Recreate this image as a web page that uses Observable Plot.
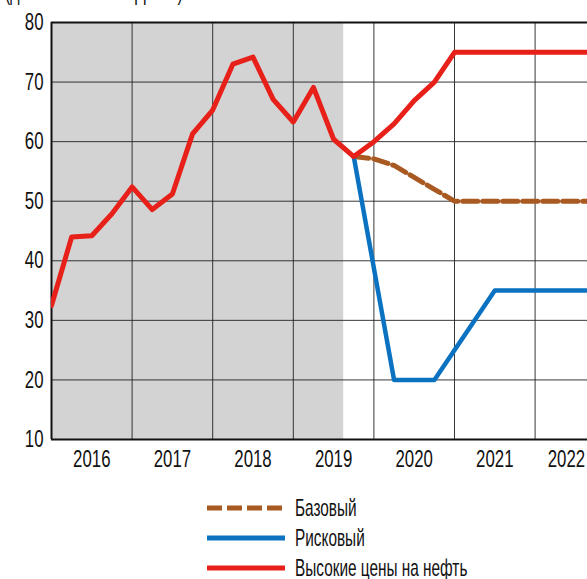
<!DOCTYPE html>
<html>
<head>
<meta charset="utf-8">
<script src="https://cdn.jsdelivr.net/npm/d3@7"></script>
<script src="https://cdn.jsdelivr.net/npm/@observablehq/plot@0.6"></script>
<style>
  html, body { margin: 0; padding: 0; background: #fff; }
  #wrap { position: relative; width: 587px; height: 579px; overflow: hidden;
          font-family: "Liberation Sans", Arial, sans-serif; color: #111; }
  #title { position: absolute; left: 5px; top: -21px; font-size: 24px; line-height: 26px; white-space: nowrap;
           transform: scaleX(0.66); transform-origin: left center; }
  #legend { position: absolute; left: 207px; top: 493px; }
  .row { display: flex; align-items: center; height: 30px; }
  .row svg { display: block; margin-right: 10px; }
  .row span { font-size: 24px; line-height: 20px; display: inline-block; transform: scaleX(0.64); transform-origin: left center; white-space: nowrap; }
</style>
</head>
<body>
<div id="wrap">
  <div id="title">(долл. США за баррель)</div>
  <div id="chart"></div>
  <div id="legend"></div>
</div>
<script>
// Historical quarterly oil price (2016Q1 .. 2019Q4)
const histT   = [2016, 2016.25, 2016.5, 2016.75, 2017, 2017.25, 2017.5, 2017.75,
                 2018, 2018.25, 2018.5, 2018.75, 2019, 2019.25, 2019.5, 2019.75];
const histOil = [32.5, 44.0, 44.2, 47.9, 52.4, 48.6, 51.2, 61.3,
                 65.3, 73.0, 74.2, 67.1, 63.3, 69.1, 60.4, 57.5];

// Scenarios
const baseT   = [2019.75, 2020, 2020.25, 2020.5, 2020.75, 2021, 2022.75];
const baseOil = [57.5, 57.1, 56.0, 54.0, 52.0, 50.0, 50.0];

const riskT   = [2019.75, 2020.25, 2020.75, 2021.5, 2022.75];
const riskOil = [57.5, 20, 20, 35, 35];

const highT   = [2019.75, 2020, 2020.25, 2020.5, 2020.75, 2021, 2022.75];
const highOil = [57.5, 60.0, 63.0, 66.9, 70.0, 75.0, 75.0];

// Axis / labels
const years      = [2016, 2017, 2018, 2019, 2020, 2021, 2022];
const yTicks     = [10, 20, 30, 40, 50, 60, 70, 80];
const shadeRange = [2016, 2019.625];
const xDomain    = [2016, 2022.65];

const seriesNames  = ["Базовый", "Рисковый", "Высокие цены на нефть"];
const seriesColors = ["#a85a22", "#0a72c0", "#e8201a"];

const toRows = (t, v) => t.map((x, i) => ({x, y: v[i]}));
const redRows = toRows(histT, histOil).concat(toRows(highT.slice(1), highOil.slice(1)));

const font = '"Liberation Sans", Arial, sans-serif';

const chart = Plot.plot({
  width: 587,
  height: 480,
  marginLeft: 51,
  marginRight: 0,
  marginTop: 22,
  marginBottom: 41,
  style: {fontFamily: font, fontSize: "24px", color: "#111", background: "transparent"},
  x: {domain: xDomain},
  y: {domain: [10, 80]},
  marks: [
    Plot.rect([shadeRange], {x1: d => d[0], x2: d => d[1], y1: 10, y2: 80, fill: "#d3d3d3"}),
    Plot.gridY(yTicks.slice(1, -1), {stroke: "#222", strokeOpacity: 0.9, strokeWidth: 1}),
    Plot.gridX(years.slice(1), {stroke: "#222", strokeOpacity: 0.9, strokeWidth: 1}),
    Plot.ruleY([80], {stroke: "#111", strokeWidth: 2}),
    Plot.ruleY([10], {stroke: "#111", strokeWidth: 2}),
    Plot.ruleX([xDomain[0]], {stroke: "#111", strokeWidth: 2}),
    Plot.line(toRows(baseT, baseOil), {x: "x", y: "y", stroke: seriesColors[0], strokeWidth: 5,
      strokeDasharray: "15,5", clip: true}),
    Plot.line(toRows(riskT, riskOil), {x: "x", y: "y", stroke: seriesColors[1], strokeWidth: 4.5, clip: true}),
    Plot.line(redRows, {x: "x", y: "y", stroke: seriesColors[2], strokeWidth: 5, clip: true}),
    Plot.axisY(yTicks, {tickSize: 0, tickPadding: 8, label: null, fontSize: 24}),
    Plot.axisX(years.slice(0, -1).map(y => y + 0.5), {tickSize: 0, tickPadding: 10, label: null, fontSize: 24,
      tickFormat: d => String(Math.floor(d))}),
    Plot.axisX(years.slice(-1).map(y => y + 0.5), {tickSize: 0, tickPadding: 10, label: null, fontSize: 24,
      dx: -9, tickFormat: d => String(Math.floor(d))})
  ]
});
document.getElementById("chart").appendChild(chart);

// condense axis labels (narrow typeface look)
chart.querySelectorAll("text").forEach(t => {
  const w = t.getComputedTextLength();
  t.setAttribute("textLength", (w * 0.7).toFixed(1));
  t.setAttribute("lengthAdjust", "spacingAndGlyphs");
});

// Legend
const legend = document.getElementById("legend");
seriesNames.forEach((name, i) => {
  const row = document.createElement("div");
  row.className = "row";
  const dash = i === 0 ? 'stroke-dasharray="15,5"' : "";
  row.innerHTML = `<svg width="78" height="10"><line x1="0" x2="78" y1="5" y2="5" stroke="${seriesColors[i]}" stroke-width="5" ${dash}/></svg><span>${name}</span>`;
  legend.appendChild(row);
});
</script>
</body>
</html>
